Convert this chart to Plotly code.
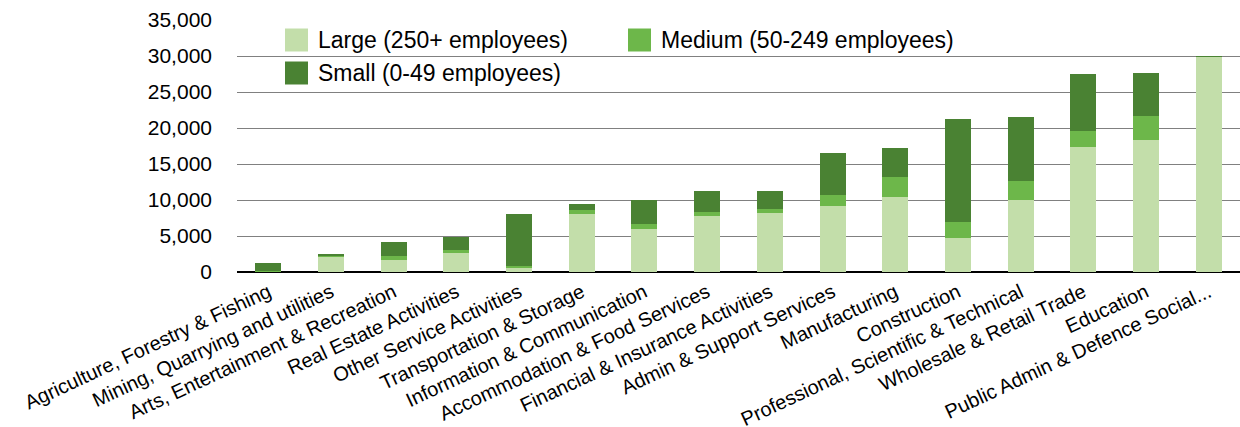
import plotly.graph_objects as go

categories = [
    "Agriculture, Forestry & Fishing",
    "Mining, Quarrying and utilities",
    "Arts, Entertainment & Recreation",
    "Real Estate Activities",
    "Other Service Activities",
    "Transportation & Storage",
    "Information & Communication",
    "Accommodation & Food Services",
    "Financial & Insurance Activities",
    "Admin & Support Services",
    "Manufacturing",
    "Construction",
    "Professional, Scientific & Technical",
    "Wholesale & Retail Trade",
    "Education",
    "Public Admin & Defence Social...",
]
large = [100, 2200, 1700, 2700, 550, 8100, 6000, 7800, 8200, 9200, 10400, 4750, 10000, 17400, 18300, 29900]
medium = [50, 50, 550, 300, 280, 500, 700, 550, 550, 1500, 2800, 2200, 2650, 2200, 3400, 0]
small = [1050, 250, 1850, 1900, 7230, 900, 3300, 2900, 2500, 5800, 4000, 14300, 8900, 7900, 5950, 100]

series_names = ["Large (250+ employees)", "Medium (50-249 employees)", "Small (0-49 employees)"]
colors = ["#c3deaa", "#6db74a", "#4a8233"]
y_ticks = [0, 5000, 10000, 15000, 20000, 25000, 30000, 35000]

W, H = 1240, 427
L, R, T, B = 237, 0, 20, 155
FONT = "Liberation Sans, Arial, sans-serif"

fig = go.Figure()
for name, vals, col in zip(series_names, [large, medium, small], colors):
    fig.add_trace(go.Bar(x=categories, y=vals, name=name, marker=dict(color=col, line=dict(width=0)),
                         showlegend=False, cliponaxis=False))

pw, ph = W - L - R, H - T - B
def px(x):
    return (x - L) / pw
def py(y):
    return (H - B - y) / ph

legend_items = [
    (series_names[0], colors[0], 285, 40),
    (series_names[1], colors[1], 628, 40),
    (series_names[2], colors[2], 285, 73),
]
for name, col, x0, yc in legend_items:
    fig.add_shape(type="rect", xref="paper", yref="paper",
                  x0=px(x0), x1=px(x0 + 23), y0=py(yc - 11.5), y1=py(yc + 11.5),
                  fillcolor=col, line=dict(width=0), layer="above")
    fig.add_annotation(xref="paper", yref="paper", x=px(x0 + 31), y=py(yc),
                       text=name, showarrow=False, xanchor="left", yanchor="middle",
                       font=dict(family=FONT, size=23, color="#000000"))

fig.update_layout(
    width=W, height=H,
    margin=dict(l=L, r=R, t=T, b=B, pad=0, autoexpand=False),
    barmode="stack",
    bargap=0.585,
    plot_bgcolor="white",
    paper_bgcolor="white",
    font=dict(family=FONT, color="#000000"),
)
fig.update_xaxes(
    automargin=False,
    tickangle=-25,
    tickfont=dict(family=FONT, size=20, color="#000000"),
    showgrid=False,
    showline=False,
    ticks="",
    ticklabelstandoff=4,
)
fig.update_yaxes(
    automargin=False,
    range=[0, 35000],
    tickvals=y_ticks,
    tickformat=",d",
    tickfont=dict(family=FONT, size=21, color="#000000"),
    showgrid=True,
    gridcolor="#808080",
    gridwidth=1,
    zeroline=True,
    zerolinecolor="#000000",
    zerolinewidth=1.5,
    showline=False,
    ticks="",
    ticklabelstandoff=24,
)
fig.write_html("out.html", config={"displayModeBar": False},
               post_script="document.body.style.margin='0';document.body.style.overflow='hidden';")
